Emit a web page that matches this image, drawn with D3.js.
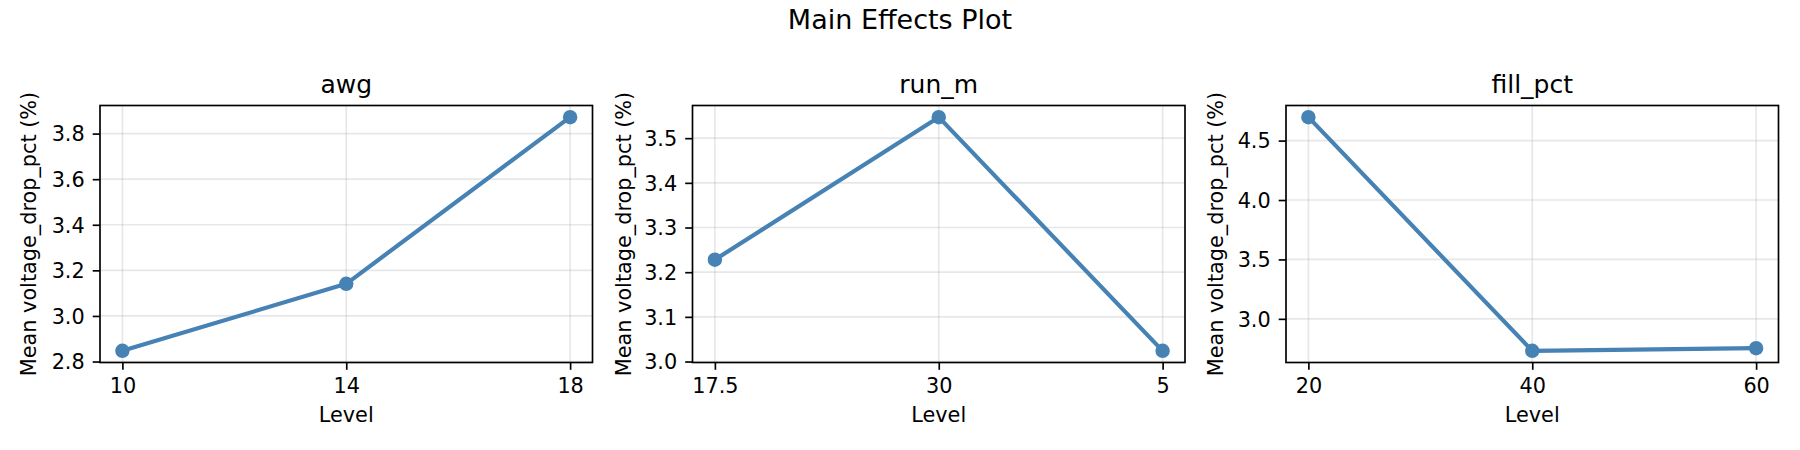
<!DOCTYPE html>
<html>
<head>
<meta charset="utf-8">
<style type="text/css">
body { margin: 0; background: #fff; }
text { font-family: "DejaVu Sans", sans-serif; fill: #000; }
.grid line { stroke: #b0b0b0; stroke-opacity: 0.3; stroke-width: 1.67; }
.effect { stroke: steelblue; stroke-width: 4.17; fill: none; stroke-linejoin: round; }
.dot { fill: steelblue; }
.frame { fill: none; stroke: #000; stroke-width: 1.67; }
</style>
<script src="https://d3js.org/d3.v7.min.js"></script>
</head>
<body>
<script type="text/javascript">
// factor names and the level labels in plotted order
var factors = ["awg", "run_m", "fill_pct"];
var awgLevels  = ["10", "14", "18"];
var runLevels  = ["17.5", "30", "5"];
var fillLevels = ["20", "40", "60"];

// mean voltage drop (%) at each level
var awgMeans  = [2.847, 3.141, 3.872];
var runMeans  = [3.228, 3.547, 3.024];
var fillMeans = [4.697, 2.731, 2.753];

// y tick values per panel
var awgTicks  = [2.8, 3.0, 3.2, 3.4, 3.6, 3.8];
var runTicks  = [3.0, 3.1, 3.2, 3.3, 3.4, 3.5];
var fillTicks = [3.0, 3.5, 4.0, 4.5];

var width = 1800, height = 450;
var lefts = [100, 692.5, 1286];
var pw = 492.5, plotTop = 105.5, plotBottom = 362.5;
var ylabelOff = [64, 62, 63];

var panels = [
	{ name: factors[0], levels: awgLevels,  means: awgMeans,  ticks: awgTicks },
	{ name: factors[1], levels: runLevels,  means: runMeans,  ticks: runTicks },
	{ name: factors[2], levels: fillLevels, means: fillMeans, ticks: fillTicks }
];

var svg = d3.select("body").append("svg").attr("width", width).attr("height", height);
svg.append("rect").attr("width", width).attr("height", height).attr("fill", "#fff");

svg.append("text").attr("x", 900).attr("y", 29.3)
	.attr("text-anchor", "middle").style("font-size", "27px")
	.text("Main Effects Plot");

panels.forEach(function(p, k) {
	var left = lefts[k];
	var x = d3.scalePoint().domain(p.levels).range([left, left + pw]).padding(0.1);
	var lo = d3.min(p.means), hi = d3.max(p.means), pad = (hi - lo) * 0.05;
	var y = d3.scaleLinear().domain([lo - pad, hi + pad]).range([plotBottom, plotTop]);

	var g = svg.append("g");

	// grid
	var grid = g.append("g").attr("class", "grid");
	grid.selectAll(".gy").data(p.ticks).enter().append("line")
		.attr("x1", left).attr("x2", left + pw)
		.attr("y1", function(d) { return y(d); }).attr("y2", function(d) { return y(d); });
	grid.selectAll(".gx").data(p.levels).enter().append("line")
		.attr("y1", plotTop).attr("y2", plotBottom)
		.attr("x1", function(d) { return x(d); }).attr("x2", function(d) { return x(d); });

	// axes
	var ax = g.append("g").attr("transform", "translate(0," + plotBottom + ")")
		.call(d3.axisBottom(x).tickSize(7.3).tickPadding(8.5));
	var ay = g.append("g").attr("transform", "translate(" + left + ",0)")
		.call(d3.axisLeft(y).tickValues(p.ticks).tickFormat(d3.format(".1f")).tickSize(7.3).tickPadding(8));
	[ax, ay].forEach(function(a) {
		a.select(".domain").remove();
		a.selectAll(".tick line").attr("stroke", "#000").attr("stroke-width", 1.67);
		a.selectAll(".tick text").style("font-size", "20.8px").attr("fill", "#000")
			.style("font-family", "'DejaVu Sans', sans-serif");
	});
	ay.selectAll(".tick text").attr("dy", "0.35em");

	// line + markers
	var line = d3.line()
		.x(function(d, i) { return x(p.levels[i]); })
		.y(function(d) { return y(d); });
	g.append("path").datum(p.means).attr("class", "effect").attr("d", line);
	g.selectAll(".dot").data(p.means).enter().append("circle")
		.attr("class", "dot").attr("r", 7.2)
		.attr("cx", function(d, i) { return x(p.levels[i]); })
		.attr("cy", function(d) { return y(d); });

	g.append("rect").attr("class", "frame")
		.attr("x", left).attr("y", plotTop).attr("width", pw).attr("height", plotBottom - plotTop);

	// titles / labels
	g.append("text").attr("x", left + pw / 2).attr("y", 92.7)
		.attr("text-anchor", "middle").style("font-size", "25px").text(p.name);
	g.append("text").attr("x", left + pw / 2).attr("y", plotBottom + 59.6)
		.attr("text-anchor", "middle").style("font-size", "20.8px").text("Level");
	g.append("text")
		.attr("transform", "translate(" + (left - ylabelOff[k]) + "," + ((plotTop + plotBottom) / 2) + ") rotate(-90)")
		.attr("text-anchor", "middle").style("font-size", "20.8px")
		.text("Mean voltage_drop_pct (%)");
});
</script>
</body>
</html>
